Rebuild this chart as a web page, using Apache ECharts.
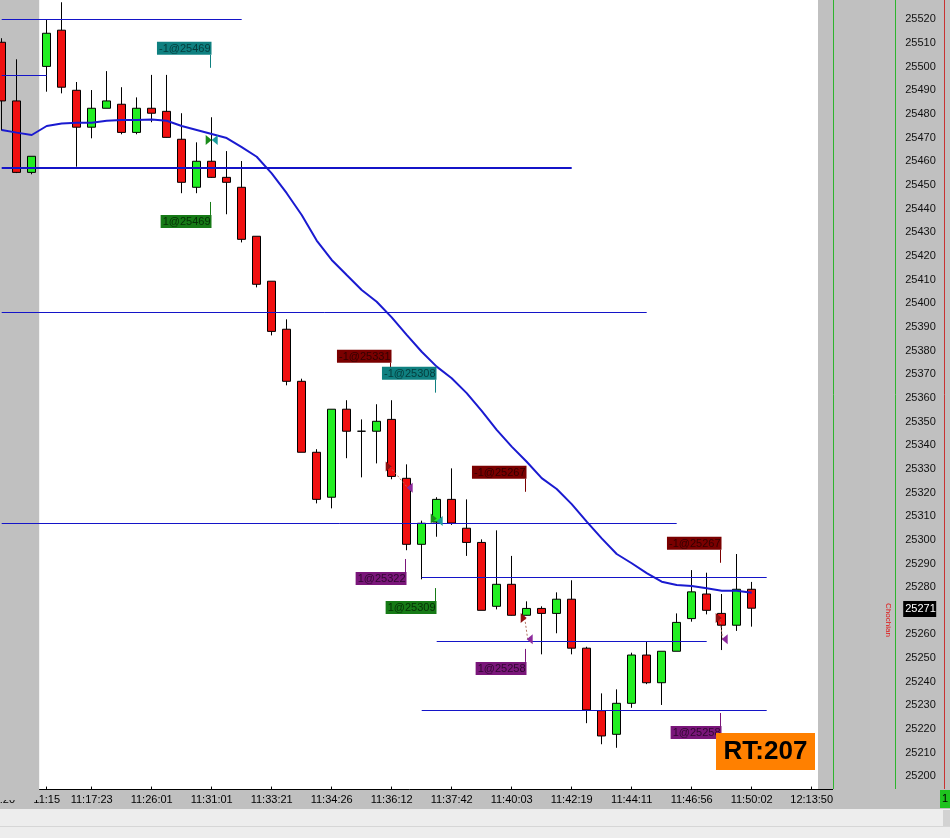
<!DOCTYPE html>
<html>
<head>
<meta charset="utf-8">
<title>Candles</title>
<script src="https://cdn.jsdelivr.net/npm/echarts@6.0.0/dist/echarts.min.js"></script>
<style>
html,body{margin:0;padding:0;background:#fff;}
#chart{width:950px;height:838px;}
</style>
</head>
<body>
<div id="chart"></div>
<script>
// ---- categories / tick labels ----
const categories = Array.from({length: 55}, (_, i) => String(i));
const tickIndex = [0, 3, 6, 10, 14, 18, 22, 26, 30, 34, 38, 42, 46, 50, 54];
const tickLabels = ['11:20', '11:15', '11:17:23', '11:26:01', '11:31:01', '11:33:21', '11:34:26',
  '11:36:12', '11:37:42', '11:40:03', '11:42:19', '11:44:11', '11:46:56', '11:50:02', '12:13:50'];

// ---- OHLC ----
const opens = [25510.3, 25485.5, 25455.3, 25500.1, 25515.4, 25490.0, 25474.4, 25482.4, 25484.1, 25472.2,
  25482.4, 25481.1, 25469.3, 25449.0, 25460.0, 25453.2, 25449.0, 25428.3, 25409.3, 25389.0,
  25367.0, 25337.0, 25318.0, 25355.2, 25345.9, 25345.9, 25350.9, 25326.0, 25298.1, 25307.5,
  25317.1, 25304.9, 25298.9, 25271.9, 25281.2, 25268.1, 25271.0, 25268.9, 25274.9, 25254.2,
  25227.8, 25217.8, 25230.9, 25251.3, 25239.6, 25252.9, 25266.7, 25277.1, 25268.9, 25263.9,
  25279.1];
const closes = [25485.5, 25455.3, 25462.1, 25514.1, 25491.3, 25474.4, 25482.4, 25485.5, 25472.2, 25482.4,
  25480.3, 25470.1, 25451.1, 25460.0, 25453.2, 25451.1, 25427.0, 25408.0, 25388.1, 25367.0,
  25337.0, 25317.1, 25355.2, 25345.9, 25345.9, 25350.1, 25326.8, 25298.1, 25307.0, 25317.1,
  25307.1, 25298.9, 25270.2, 25281.2, 25268.1, 25271.0, 25268.9, 25274.9, 25254.2, 25228.1,
  25217.1, 25230.9, 25251.3, 25239.6, 25252.9, 25265.1, 25278.0, 25270.2, 25263.9, 25279.1,
  25271.1];
const lows = [25473.0, 25455.0, 25454.5, 25489.4, 25488.7, 25457.7, 25469.7, 25482.4, 25471.4, 25471.4,
  25476.5, 25470.0, 25446.5, 25446.5, 25453.0, 25437.6, 25425.7, 25406.7, 25386.4, 25365.3,
  25337.0, 25315.4, 25313.3, 25334.5, 25326.4, 25332.3, 25325.6, 25295.6, 25283.3, 25301.3,
  25306.3, 25293.2, 25270.2, 25270.6, 25268.0, 25268.0, 25251.6, 25260.5, 25251.6, 25222.5,
  25213.6, 25212.1, 25229.0, 25239.0, 25230.2, 25252.9, 25265.4, 25268.5, 25253.4, 25261.5,
  25263.3];
const highs = [25512.0, 25503.1, 25462.1, 25520.0, 25527.2, 25493.5, 25490.1, 25498.1, 25491.3, 25487.0,
  25496.5, 25496.5, 25480.3, 25468.0, 25478.6, 25464.3, 25460.1, 25428.3, 25409.3, 25393.2,
  25368.1, 25338.3, 25355.2, 25359.0, 25350.9, 25357.3, 25359.0, 25331.9, 25308.1, 25318.0,
  25330.2, 25317.1, 25300.2, 25304.0, 25293.2, 25274.0, 25271.9, 25277.8, 25282.9, 25254.8,
  25235.1, 25236.8, 25252.3, 25256.9, 25252.9, 25268.9, 25287.2, 25286.1, 25277.1, 25294.0,
  25282.2];

// ---- moving average ----
const maValues = [25473.2, 25472.1, 25471.1, 25474.9, 25476.0, 25476.3, 25476.3, 25477.1, 25477.4, 25477.4,
  25477.7, 25477.1, 25474.9, 25473.2, 25471.5, 25469.8, 25466.0, 25461.9, 25454.9, 25446.5,
  25437.3, 25426.5, 25418.3, 25411.9, 25405.6, 25400.6, 25394.0, 25386.6, 25379.5, 25373.2,
  25368.3, 25362.0, 25354.5, 25346.5, 25339.4, 25333.0, 25326.1, 25321.5, 25315.1, 25307.7,
  25300.6, 25294.0, 25290.1, 25285.9, 25282.3, 25280.9, 25280.5, 25279.5, 25278.5, 25278.5,
  25277.6];

// ---- horizontal price levels ----
const levelValues = [25520, 25496.5, 25457.3, 25396.3, 25307, 25284.2, 25257.1, 25227.9];
const levelStart  = [0, 0, 0, 0, 0, 28, 29, 28];
const levelEnd    = [16, 3, 38, 43, 45, 51, 47, 51];
const levelWidth  = [1, 1, 2, 1, 1, 1, 1, 1];

// ---- trades ----
const tradeIndex  = [14, 14, 26, 29, 35, 27, 29, 35, 48, 48];
const tradeQty    = [-1, 1, -1, -1, -1, 1, 1, 1, -1, 1];
const tradePrice  = [25469, 25469, 25331, 25308, 25267, 25322, 25309, 25258, 25267, 25258];
const tradeAnchor = [25499.5, 25442.8, 25369.3, 25362.2, 25320.3, 25291.9, 25279.6, 25253.9, 25290.3, 25226.8];
const tradeStyle  = [0, 1, 2, 0, 2, 3, 1, 3, 2, 3];
const tradePairs  = [[2, 5], [4, 7], [8, 9]];
const sessionShade = [[0, 2]];
const lastIndex = 50;

const styleBg = ['#0f8080', '#167a16', '#7a0000', '#7a167a'];
const styleFg = ['#053c3c', '#053005', '#330000', '#300830'];
const markerColor = ['#1a9c9c', '#1a8c1a', '#8c1010', '#8c2a9c'];
const LEVEL_COLOR = '#1414c8';

const FONT = '"Liberation Sans", Arial, sans-serif';
const labelMap = {};
tickIndex.forEach((k, i) => { labelMap[k] = tickLabels[i]; });
const showTick = (idx) => labelMap[idx] !== undefined;

const candleData = opens.map((o, i) => [o, closes[i], lows[i], highs[i]]);
const tradeLabelData = tradeIndex.map((k, i) => [k, tradeAnchor[i], tradeQty[i], tradePrice[i], tradeStyle[i]]);
const tradeMarkData = tradeIndex.map((k, i) => [k, tradePrice[i], tradeStyle[i]]);
const connectorData = tradePairs.map(p => [tradeIndex[p[0]], tradePrice[p[0]], tradeIndex[p[1]], tradePrice[p[1]]]);

// price levels as markLines on a helper line series
const levelLines = levelValues.map((v, i) => [
  {coord: [levelStart[i], v], lineStyle: {width: levelWidth[i], color: LEVEL_COLOR, type: 'solid'}},
  {coord: [levelEnd[i], v]}
]);

const chart = echarts.init(document.getElementById('chart'), null, {renderer: 'canvas'});

const option = {
  animation: false,
  backgroundColor: '#ffffff',
  grid: {left: -5.8, top: -4.36, width: 825, height: 804.44, containLabel: false, outerBoundsMode: 'none'},
  xAxis: {
    type: 'category',
    data: categories,
    boundaryGap: true,
    offset: -10.5,
    axisLine: {lineStyle: {color: '#000', width: 1}},
    axisTick: {show: true, inside: true, length: 3, alignWithLabel: true,
      interval: (idx) => showTick(idx), lineStyle: {color: '#000'}},
    axisLabel: {interval: (idx) => showTick(idx), formatter: (v, idx) => labelMap[idx] || '',
      margin: 5, color: '#000', fontSize: 11, fontFamily: FONT},
    splitLine: {show: false}
  },
  yAxis: {
    type: 'value',
    position: 'right',
    min: 25190, max: 25530, interval: 10,
    axisLine: {show: false}, axisTick: {show: false}, splitLine: {show: false},
    axisLabel: {margin: 86, color: '#111', fontSize: 11, fontFamily: FONT,
      formatter: (v) => (v < 25200 || v > 25520) ? '' : String(v)}
  },
  graphic: [
    {type: 'rect', z: -10, shape: {x: 818, y: 0, width: 132, height: 809}, style: {fill: '#c0c0c0'}},
    {type: 'rect', z: -10, shape: {x: 0, y: 789, width: 950, height: 20}, style: {fill: '#c0c0c0'}},
    {type: 'rect', z: -10, shape: {x: 0, y: 809, width: 950, height: 29}, style: {fill: '#ededed'}},
    {type: 'line', z: -9, shape: {x1: 0, y1: 826.5, x2: 950, y2: 826.5}, style: {stroke: '#d6d6d6', lineWidth: 1}},
    {type: 'rect', z: -9, shape: {x: 943, y: 810, width: 7, height: 16}, style: {fill: '#d2d2d2'}},
    {type: 'line', z: 5, shape: {x1: 818, y1: 789.5, x2: 833, y2: 789.5}, style: {stroke: '#000', lineWidth: 1}},
    {type: 'line', z: 5, shape: {x1: 833.5, y1: 0, x2: 833.5, y2: 789}, style: {stroke: '#2db42d', lineWidth: 1}},
    {type: 'line', z: 5, shape: {x1: 895.5, y1: 0, x2: 895.5, y2: 789}, style: {stroke: '#2db42d', lineWidth: 1}},
    {type: 'line', z: 5, shape: {x1: 944.5, y1: 0, x2: 944.5, y2: 789}, style: {stroke: '#c83232', lineWidth: 1}},
    {type: 'rect', z: 5, shape: {x: 940, y: 790, width: 10, height: 18}, style: {fill: '#1ec31e'}},
    {type: 'text', z: 6, x: 942, y: 799, style: {text: '1', fill: '#000', font: '11px ' + FONT, verticalAlign: 'middle'}},
    {type: 'text', z: 6, x: 888, y: 620, rotation: -Math.PI / 2,
      style: {text: 'Chochian', fill: '#e01010', font: '8px ' + FONT, align: 'center', verticalAlign: 'middle'}},
    {type: 'rect', z: 20, shape: {x: 716, y: 733, width: 99, height: 37}, style: {fill: '#ff8000'}},
    {type: 'text', z: 21, x: 765.5, y: 752, style: {text: 'RT:207', fill: '#000',
      font: 'bold 26px ' + FONT, align: 'center', verticalAlign: 'middle'}}
  ],
  series: [
    {
      type: 'custom', name: 'session', z: 1, silent: true,
      data: sessionShade, encode: {x: 0, y: -1},
      renderItem: function (params, api) {
        const band = api.size([1, 0])[0];
        const a = api.coord([api.value(0), 25300]);
        const b = api.coord([api.value(1), 25300]);
        const cs = params.coordSys;
        return {type: 'rect', shape: {x: a[0] - band / 2, y: cs.y, width: b[0] - a[0] + band, height: cs.height},
          style: {fill: '#c0c0c0'}};
      }
    },
    {
      type: 'candlestick', name: 'price', z: 2, barWidth: 8,
      data: candleData,
      itemStyle: {color: '#22ee22', color0: '#f01010', borderColor: '#000', borderColor0: '#000',
        borderColorDoji: '#000', borderWidth: 1}
    },
    {
      type: 'line', name: 'levels', z: 3, data: [], silent: true,
      markLine: {silent: true, symbol: ['none', 'none'], label: {show: false},
        emphasis: {disabled: true}, animation: false, data: levelLines}
    },
    {
      type: 'line', name: 'MA', z: 4, data: maValues, symbol: 'none', smooth: false, silent: true,
      lineStyle: {color: '#1a1ad0', width: 2}
    },
    {
      type: 'custom', name: 'connectors', z: 5, silent: true,
      data: connectorData, encode: {x: 0, y: 1},
      renderItem: function (params, api) {
        const a = api.coord([api.value(0), api.value(1)]);
        const b = api.coord([api.value(2), api.value(3)]);
        return {type: 'line', shape: {x1: a[0] - 2, y1: a[1], x2: b[0] + 1, y2: b[1]},
          style: {stroke: '#b07060', lineWidth: 1, lineDash: [2, 2]}};
      }
    },
    {
      type: 'custom', name: 'markers', z: 6, silent: true,
      data: tradeMarkData, encode: {x: 0, y: 1},
      renderItem: function (params, api) {
        const p = api.coord([api.value(0), api.value(1)]);
        const st = api.value(2);
        const right = (st === 1 || st === 2);
        const cx = p[0], cy = p[1];
        const pts = right ? [[cx - 6, cy - 5], [cx, cy], [cx - 6, cy + 5]]
                          : [[cx + 6, cy - 5], [cx, cy], [cx + 6, cy + 5]];
        return {type: 'polygon', shape: {points: pts}, style: {fill: markerColor[st]}};
      }
    },
    {
      type: 'custom', name: 'tradeLabels', z: 7, silent: true,
      data: tradeLabelData, encode: {x: 0, y: 1},
      renderItem: function (params, api) {
        const p = api.coord([api.value(0), api.value(1)]);
        const qty = api.value(2), price = api.value(3), st = api.value(4);
        const sell = qty < 0;
        const x = Math.round(p[0] - 1.5) + 0.5;
        const y0 = p[1];
        const y1 = sell ? y0 - 13 : y0 + 13;
        return {type: 'group', children: [
          {type: 'line', shape: {x1: x, y1: y0, x2: x, y2: y1}, style: {stroke: styleBg[st], lineWidth: 1}},
          {type: 'text', x: x + 1, y: y1, style: {
            text: qty + '@' + price, align: 'right', verticalAlign: sell ? 'bottom' : 'top',
            backgroundColor: styleBg[st], fill: styleFg[st], padding: [1, 1, 0, 2], lineHeight: 12,
            font: '11px ' + FONT}}
        ]};
      }
    },
    {
      type: 'custom', name: 'lastPrice', z: 8, silent: true,
      data: [[lastIndex, closes[lastIndex]]], encode: {x: 0, y: 1},
      renderItem: function (params, api) {
        const p = api.coord([api.value(0), api.value(1)]);
        const cs = params.coordSys;
        const x = cs.x + cs.width + 84;
        return {type: 'group', children: [
          {type: 'rect', shape: {x: x, y: Math.round(p[1]) - 7, width: 33, height: 16}, style: {fill: '#000'}},
          {type: 'text', x: x + 2, y: Math.round(p[1]) + 1, style: {text: String(Math.round(api.value(1))),
            fill: '#fff', font: '11px ' + FONT, verticalAlign: 'middle'}}
        ]};
      }
    }
  ]
};
chart.setOption(option);
</script>
</body>
</html>
